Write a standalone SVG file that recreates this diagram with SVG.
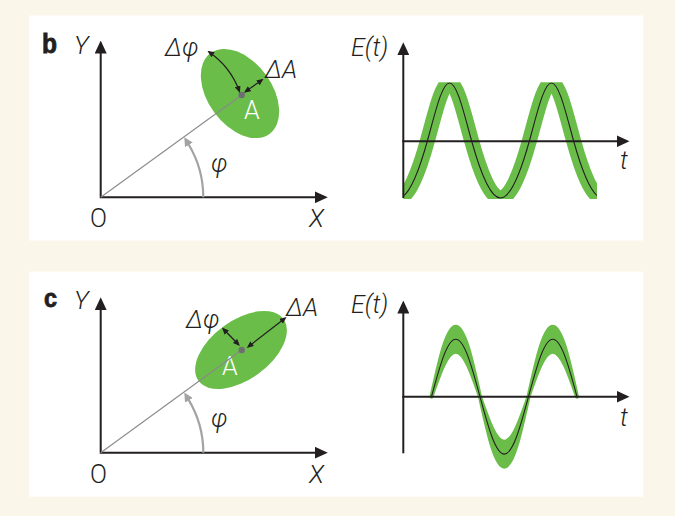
<svg xmlns="http://www.w3.org/2000/svg" width="675" height="516" viewBox="0 0 675 516">
<style>
.bg{fill:#faf6ea}
.panel{fill:#ffffff}
.axis{fill:none;stroke:#231f20;stroke-width:2}
.lbl{font-family:Roboto,"Liberation Sans",sans-serif;font-weight:300;font-size:25px;fill:#231f20}
.it{font-style:italic}
.wl{fill:#ffffff;font-size:25px}
.tag{font-family:"Liberation Sans",Arial,sans-serif;font-weight:bold;fill:#231f20;stroke:#231f20;stroke-width:0.8}
.ell{fill:#6bbd4a}
.radial{stroke:#8a8a8a;stroke-width:1.1;fill:none}
.dot{fill:#6d6e71}
.small{fill:none;stroke:#231f20;stroke-width:1.3}
.phi{fill:none;stroke:#a3a3a3;stroke-width:2.2}
.band{fill:none;stroke:#6bbd4a;stroke-width:15;stroke-linejoin:round}
.bandc{fill:#6bbd4a;stroke:#6bbd4a;stroke-width:4;stroke-linejoin:round}
.wave{fill:none;stroke:#231f20;stroke-width:1.1}
</style>
<defs>
<marker id="ah" markerUnits="userSpaceOnUse" viewBox="0 0 13 12" markerWidth="13" markerHeight="12" refX="0.5" refY="6" orient="auto-start-reverse"><path d="M0,0 L13,6 L0,12 Z" fill="#231f20"/></marker>
<marker id="sa" markerUnits="userSpaceOnUse" viewBox="0 0 7 6" markerWidth="7" markerHeight="6" refX="5" refY="3" orient="auto-start-reverse"><path d="M0,0 L7,3 L0,6 Z" fill="#231f20"/></marker>
<marker id="ga" markerUnits="userSpaceOnUse" viewBox="0 0 9 9" markerWidth="9" markerHeight="9" refX="0.5" refY="4.5" orient="auto"><path d="M0,0 L9,4.5 L0,9 Z" fill="#a3a3a3"/></marker>
<clipPath id="clipb"><rect x="403.3" y="82.3" width="193.7" height="116.7"/></clipPath>
<path id="wb" d="M398.5,198 C408.7,198 418.7,172.2 427.5,140.5 C435,113.5 441.8,83 449.5,83 C457.2,83 464,113.5 471.5,140.5 C480.3,172.2 490.3,198 500.5,198 C510.7,198 520.7,172.2 529.5,140.5 C537,113.5 543.8,83 551.5,83 C559.2,83 566,113.5 573.5,140.5 C582.3,172.2 592.3,198 602.5,198"/>
</defs>

<rect class="bg" x="0" y="0" width="675" height="516"/>
<rect class="panel" x="29.3" y="15.5" width="614" height="225"/>
<rect class="panel" x="29.3" y="271.7" width="614" height="225"/>

<!-- Panel b: phasor -->
<g id="b-phasor">
  <text class="tag" x="42" y="52.5" font-size="27" textLength="15" lengthAdjust="spacingAndGlyphs">b</text>
  <ellipse class="ell" cx="240" cy="93.5" rx="50" ry="32" transform="rotate(54 240 93.5)"/>
  <text class="lbl wl" x="244" y="119">A</text>
  <text class="lbl it" x="165" y="55.5">Δφ</text>
  <text class="lbl it" x="265" y="77.5">ΔA</text>
  <text class="lbl it" x="211" y="172">φ</text>
</g>
<g id="b-axes">
  <path class="axis" d="M100.7,53 V197.3 H315.3" marker-start="url(#ah)" marker-end="url(#ah)"/>
  <text class="lbl it" x="74" y="54">Y</text>
  <text class="lbl" x="90" y="226.5">O</text>
  <text class="lbl it" x="309" y="226.5">X</text>
</g>
<g id="b-connectors">
  <line class="radial" x1="100.7" y1="197.3" x2="241.7" y2="95"/>
  <circle class="dot" cx="241.7" cy="95" r="3.2"/>
  <path class="small" d="M209,52 Q230.3,66.6 239.3,91" marker-start="url(#sa)" marker-end="url(#sa)"/>
  <line class="small" x1="245.5" y1="91.5" x2="262" y2="80" marker-start="url(#sa)" marker-end="url(#sa)"/>
  <path class="phi" d="M203.3,197.3 A102.6,102.6 0 0 0 188.65,144.46" marker-end="url(#ga)"/>
</g>

<!-- Panel b: signal -->
<g id="b-signal">
  <g clip-path="url(#clipb)">
    <use href="#wb" class="band"/>
    <use href="#wb" class="wave"/>
  </g>
  <path class="axis" d="M403.3,54.7 V198" marker-start="url(#ah)"/>
  <path class="axis" d="M402.3,141.3 H617" marker-end="url(#ah)"/>
  <text class="lbl it" x="351" y="55.5">E(t)</text>
  <text class="lbl it" x="620" y="168.5">t</text>
</g>

<!-- Panel c: phasor -->
<g id="c-phasor">
  <text class="tag" x="44" y="307" font-size="25" textLength="13" lengthAdjust="spacingAndGlyphs">c</text>
  <ellipse class="ell" cx="241" cy="350" rx="52.5" ry="29.5" transform="rotate(-36 241 350)"/>
  <text class="lbl wl" x="222" y="375">A</text>
  <text class="lbl it" x="186" y="327.5">Δφ</text>
  <text class="lbl it" x="286" y="315.5">ΔA</text>
  <text class="lbl it" x="211" y="427">φ</text>
</g>
<g id="c-axes">
  <path class="axis" d="M100.7,309.7 V452.7 H315.3" marker-start="url(#ah)" marker-end="url(#ah)"/>
  <text class="lbl it" x="74" y="308.5">Y</text>
  <text class="lbl" x="90" y="482.5">O</text>
  <text class="lbl it" x="309" y="482.5">X</text>
</g>
<g id="c-connectors">
  <line class="radial" x1="100.7" y1="452.7" x2="241.7" y2="350"/>
  <circle class="dot" cx="241.7" cy="350" r="3.2"/>
  <line class="small" x1="223.3" y1="329" x2="238.5" y2="344.5" marker-start="url(#sa)" marker-end="url(#sa)"/>
  <line class="small" x1="248.3" y1="346.7" x2="285" y2="318.3" marker-start="url(#sa)" marker-end="url(#sa)"/>
  <path class="phi" d="M203.3,452.7 A102.6,102.6 0 0 0 188.65,399.86" marker-end="url(#ga)"/>
</g>

<!-- Panel c: signal -->
<g id="c-signal">
  <path class="bandc" d="M431.5,396.7 C440.03,358 447.22,326.7 455.75,326.7 C464.28,326.7 471.47,358 480,396.7 C488.53,435.4 495.72,466.7 504.25,466.7 C512.78,466.7 519.97,435.4 528.5,396.7 C537.03,358 544.22,326.7 552.75,326.7 C561.28,326.7 568.47,358 577,396.7 C568.47,371.8 561.28,351.7 552.75,351.7 C544.22,351.7 537.03,371.8 528.5,396.7 C519.97,421.6 512.78,441.7 504.25,441.7 C495.72,441.7 488.53,421.6 480,396.7 C471.47,371.8 464.28,351.7 455.75,351.7 C447.22,351.7 440.03,371.8 431.5,396.7 Z"/>
  <path class="wave" d="M431.5,396.7 C440.03,365 447.22,339.3 455.75,339.3 C464.28,339.3 471.47,365 480,396.7 C488.53,428.4 495.72,454.1 504.25,454.1 C512.78,454.1 519.97,428.4 528.5,396.7 C537.03,365 544.22,339.3 552.75,339.3 C561.28,339.3 568.47,365 577,396.7"/>
  <path class="axis" d="M403.3,313 V453.3" marker-start="url(#ah)"/>
  <path class="axis" d="M402.3,396.7 H617" marker-end="url(#ah)"/>
  <text class="lbl it" x="351" y="312.5">E(t)</text>
  <text class="lbl it" x="620" y="425.5">t</text>
</g>
</svg>
